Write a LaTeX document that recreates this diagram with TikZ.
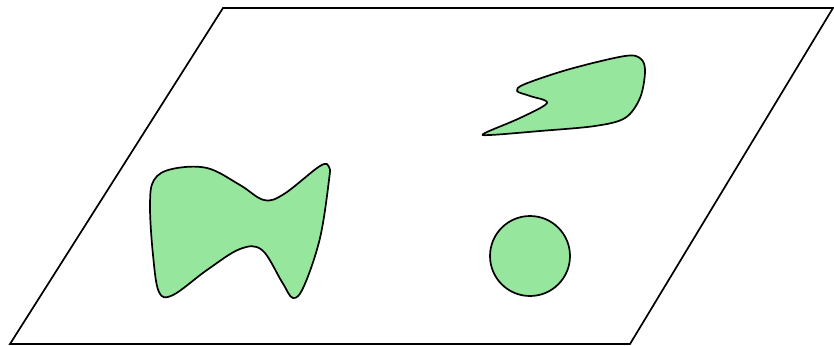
\documentclass[tikz,border=0pt]{standalone}
\begin{document}
\begin{tikzpicture}[x=1pt,y=-1pt,
  blob/.style={draw=black,line width=1.7pt,fill=blobgreen,line join=round},
  plane/.style={draw=black,line width=1.7pt,line join=miter}]
\definecolor{blobgreen}{RGB}{151,230,158}
\useasboundingbox (0,0) rectangle (834,345);
\draw[plane] (10,344) -- (630,344) -- (833,8) -- (223,8) -- cycle;
% left blob
\draw[blob] plot[smooth cycle,tension=0.6] coordinates {
  (150,205) (154,180) (172,169) (207,168) (240,185) (264,200) (284,194)
  (320,166) (329,167) (329,180) (320,238) (304,286) (293,298)
  (282,282) (262,250) (240,249) (207,270) (173,295) (159,292) (153,255)};
% upper blob
\draw[blob] plot[smooth cycle,tension=0.55] coordinates {
  (485,133) (520,118) (547,103) (530,96) (517,91) (525,84) (570,69)
  (625,56) (641,59) (645,72) (640,98) (625,118) (595,126) (540,131) (490,135)};
% circle
\draw[blob] (530,256) circle[radius=40];
\end{tikzpicture}
\end{document}
